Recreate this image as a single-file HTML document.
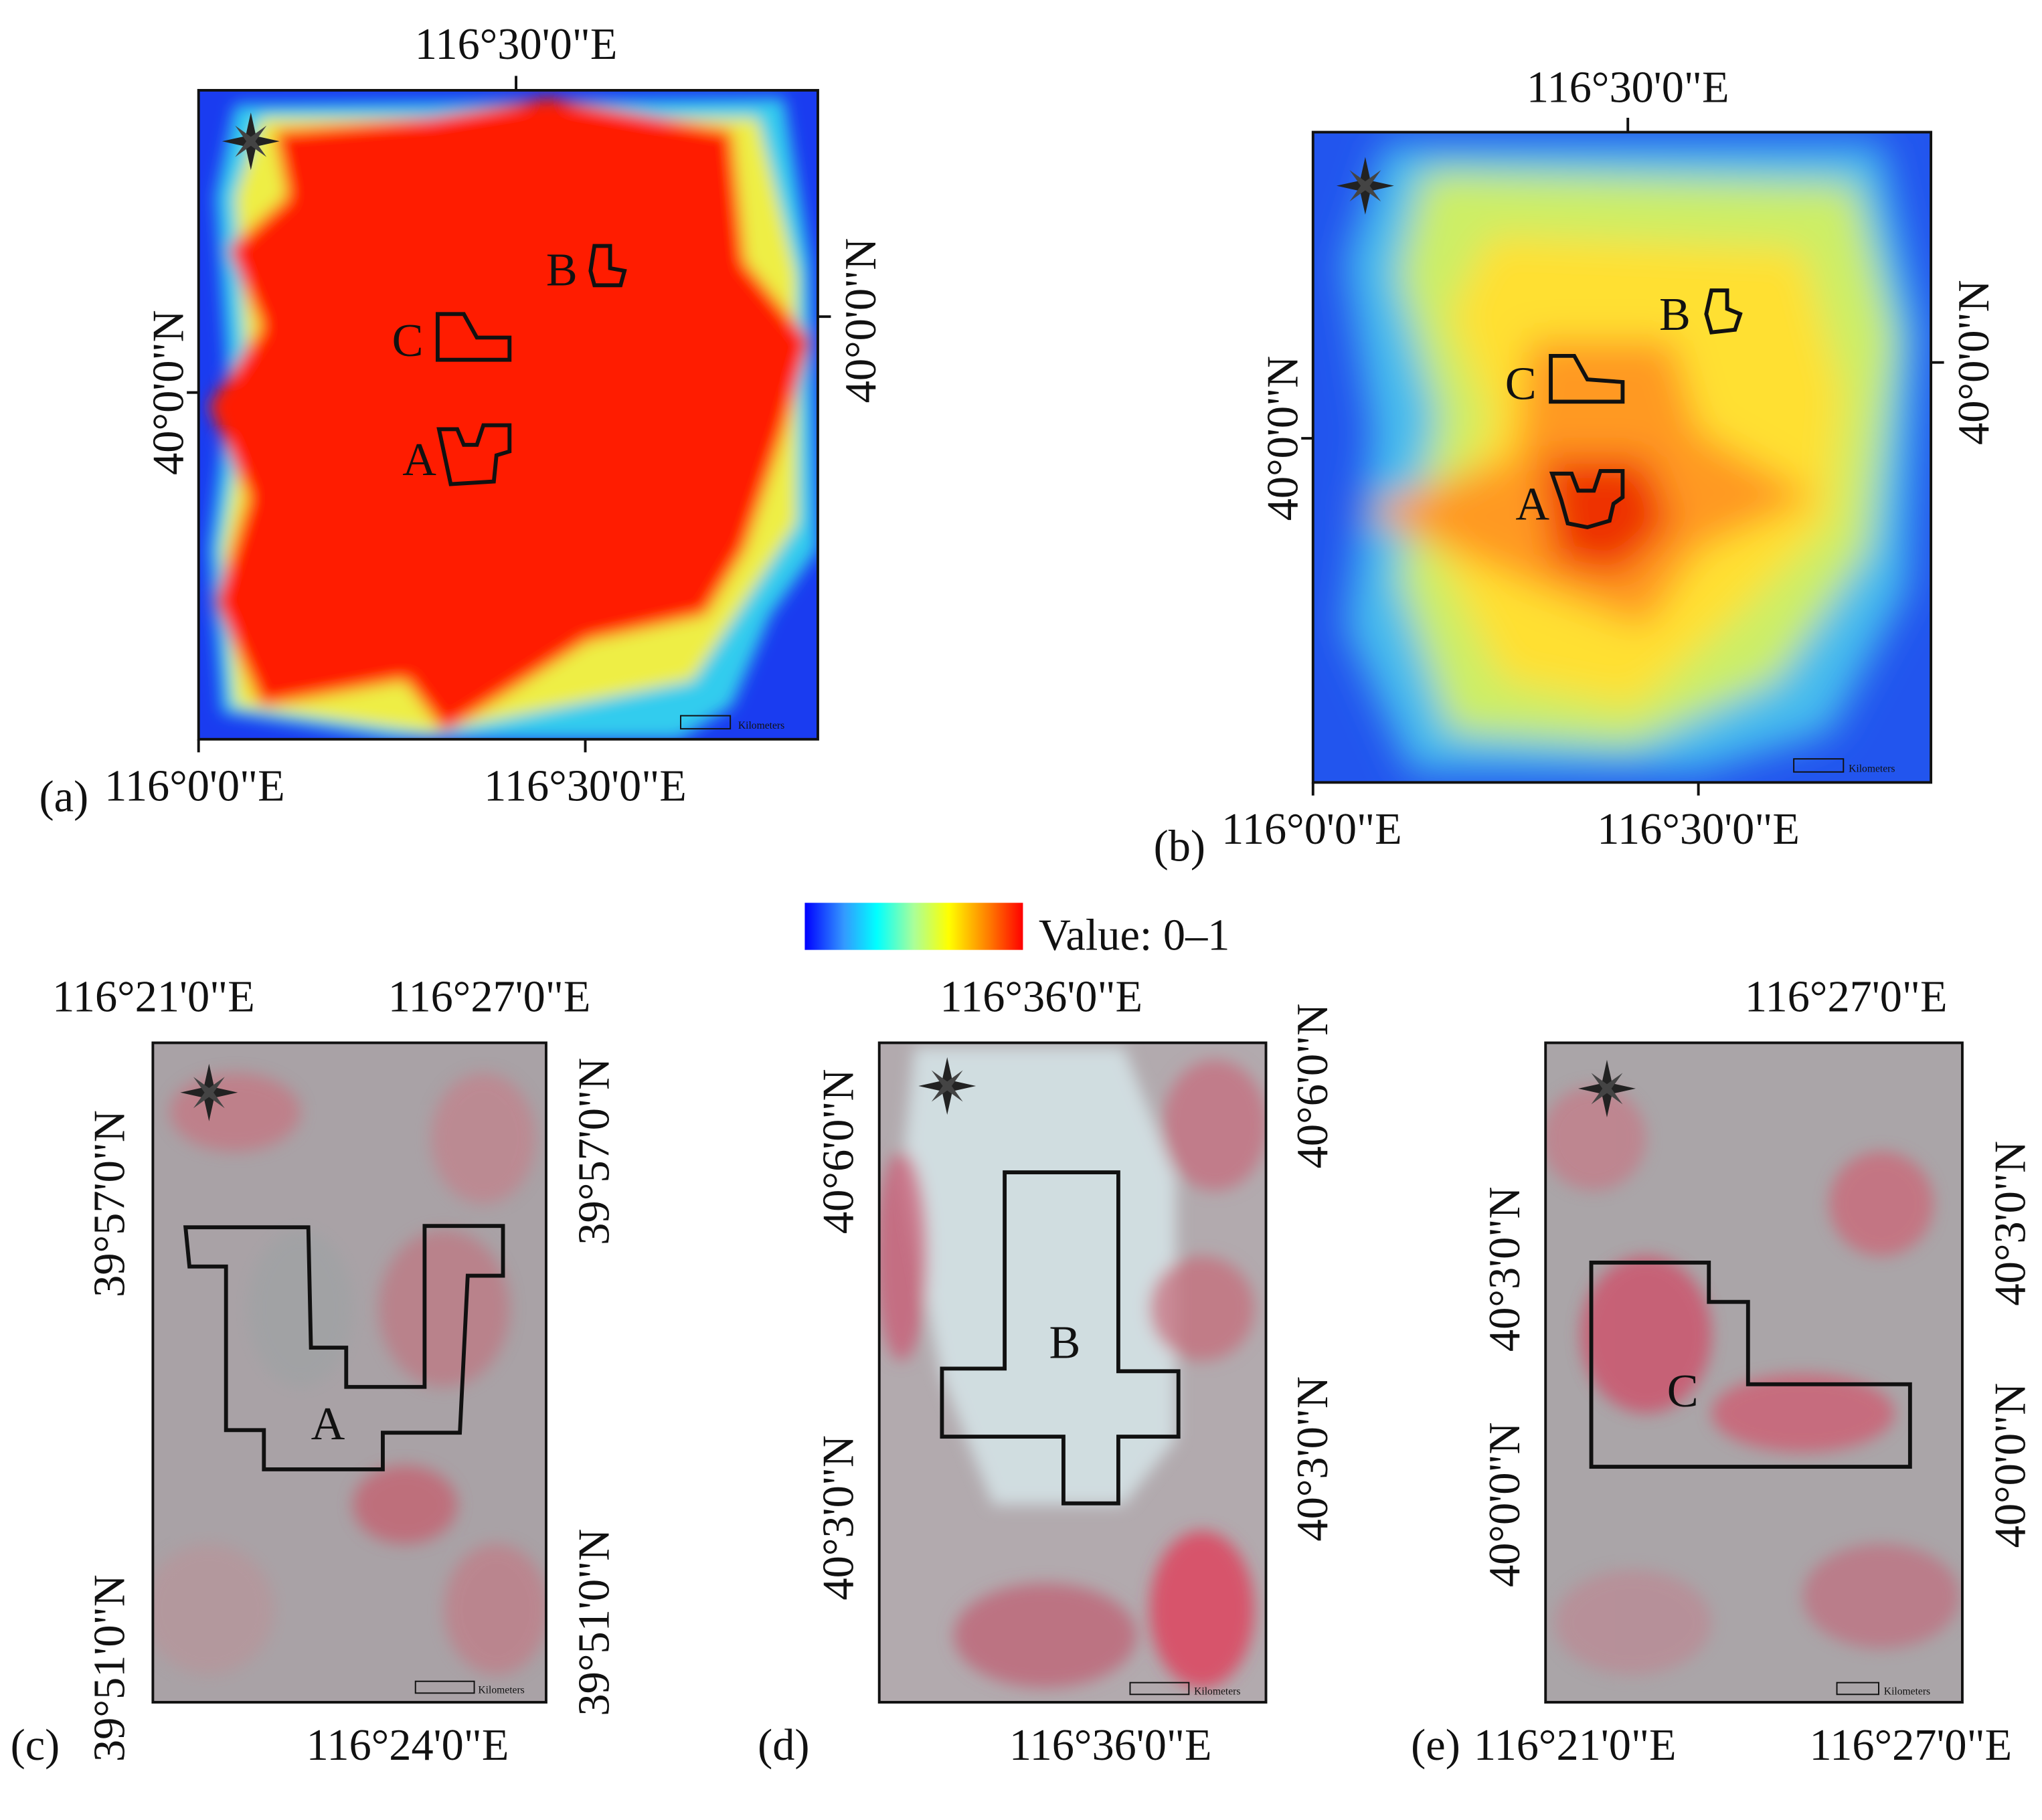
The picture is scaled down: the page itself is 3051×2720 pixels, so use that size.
<!DOCTYPE html>
<html><head><meta charset="utf-8"><style>
html,body{margin:0;padding:0;background:#fff}
svg{display:block}
text{font-family:"Liberation Serif",serif;fill:#111}
</style></head><body>
<svg width="3051" height="2720" viewBox="0 0 1563 1391" preserveAspectRatio="none">
<defs>
<linearGradient id="cb" x1="0" x2="1" y1="0" y2="0">
<stop offset="0" stop-color="#0000ff"/><stop offset="0.18" stop-color="#3399ff"/><stop offset="0.33" stop-color="#00ffff"/><stop offset="0.5" stop-color="#aaff99"/><stop offset="0.66" stop-color="#ffff00"/><stop offset="0.85" stop-color="#ff7700"/><stop offset="1" stop-color="#ff0000"/>
</linearGradient>
<filter id="bl" x="-20%" y="-20%" width="140%" height="140%"><feGaussianBlur stdDeviation="6"/></filter>
<filter id="bl2" x="-20%" y="-20%" width="140%" height="140%"><feGaussianBlur stdDeviation="14"/></filter>
<clipPath id="ca"><rect x="152" y="69" width="474" height="496"/></clipPath>
<clipPath id="cbp"><rect x="1005" y="101" width="473" height="497"/></clipPath>
<clipPath id="cc"><rect x="117" y="797" width="301" height="504"/></clipPath>
<clipPath id="cd"><rect x="673" y="797" width="296" height="504"/></clipPath>
<clipPath id="ce"><rect x="1183" y="797" width="319" height="504"/></clipPath>
<g id="star"><polygon points="0,-22 4,-4 22,0 4,4 0,22 -4,4 -22,0 -4,-4" fill="#222"/><polygon points="-12,-12 2,-2 12,12 -2,2" fill="#444"/><polygon points="12,-12 2,2 -12,12 -2,-2" fill="#444"/></g>
</defs>

<!-- Panel a -->
<g clip-path="url(#ca)">
<rect x="152" y="69" width="474" height="496" fill="#1a3cf0"/>
<g filter="url(#bl)">
<polygon points="180,80 600,75 620,200 626,420 590,470 560,540 520,565 300,565 170,545 160,420 175,300 165,150" fill="#33ccee"/>
<polygon points="200,90 580,90 610,210 610,400 570,460 530,520 480,530 330,560 180,540 170,420 190,300 180,150" fill="#eeee44"/>
<polygon points="210,100 330,90 420,75 560,100 570,200 620,260 600,330 570,420 540,470 450,490 340,560 310,520 200,540 165,460 190,380 160,310 200,250 175,190 220,150" fill="#ff1a00"/>
</g>
</g>
<rect x="152" y="69" width="474" height="496" fill="none" stroke="#111" stroke-width="2"/>
<use href="#star" x="192" y="108"/>
<g fill="none" stroke="#111" stroke-width="3">
<polygon points="335,240 355,240 365,258 390,258 390,275 335,275"/>
<polygon points="336,328 350,328 355,340 365,340 370,325 390,325 390,345 380,348 378,368 345,370"/>
<polygon points="455,188 467,188 467,205 478,207 475,218 455,218 452,207"/>
</g>
<text x="300" y="272" font-size="36">C</text>
<text x="308" y="363" font-size="36">A</text>
<text x="418" y="218" font-size="36">B</text>
<rect x="521" y="547" width="38" height="10" fill="none" stroke="#111" stroke-width="1"/>
<text x="565" y="557" font-size="8" font-family="Liberation Sans">Kilometers</text>
<text x="395" y="45" font-size="34" text-anchor="middle">116°30'0"E</text>
<line x1="395" y1="58" x2="395" y2="69" stroke="#111" stroke-width="2"/>
<text transform="translate(140,300) rotate(-90)" font-size="34" text-anchor="middle">40°0'0"N</text>
<line x1="143" y1="300" x2="152" y2="300" stroke="#111" stroke-width="2"/>
<text transform="translate(670,245) rotate(-90)" font-size="34" text-anchor="middle">40°0'0"N</text>
<line x1="626" y1="242" x2="636" y2="242" stroke="#111" stroke-width="2"/>
<text x="30" y="620" font-size="34">(a)</text>
<text x="80" y="612" font-size="34">116°0'0"E</text>
<text x="448" y="612" font-size="34" text-anchor="middle">116°30'0"E</text>
<line x1="152" y1="565" x2="152" y2="575" stroke="#111" stroke-width="2"/>
<line x1="448" y1="565" x2="448" y2="575" stroke="#111" stroke-width="2"/>

<!-- Panel b -->
<g clip-path="url(#cbp)">
<rect x="1005" y="101" width="473" height="497" fill="#2255ee"/>
<g filter="url(#bl2)">
<polygon points="1060,110 1440,110 1470,250 1460,450 1400,560 1300,590 1080,590 1030,480 1050,330 1030,200" fill="#44bbee"/>
<polygon points="1090,130 1420,140 1450,260 1430,420 1360,520 1250,570 1110,560 1070,440 1100,320 1070,210" fill="#ccee66"/>
<polygon points="1140,180 1380,190 1410,300 1400,400 1330,470 1250,540 1150,520 1100,420 1140,320 1110,240" fill="#ffe030"/>
<polygon points="1170,260 1280,260 1300,330 1390,380 1300,420 1260,480 1180,450 1040,390 1160,350" fill="#ff9922"/>
<polygon points="1180,350 1260,350 1280,400 1240,440 1190,430" fill="#ee3300"/>
</g>
</g>
<rect x="1005" y="101" width="473" height="497" fill="none" stroke="#111" stroke-width="2"/>
<use href="#star" x="1045" y="142"/>
<g fill="none" stroke="#111" stroke-width="3">
<polygon points="1187,272 1205,272 1215,290 1242,292 1242,307 1187,307"/>
<polygon points="1188,362 1203,362 1208,375 1220,375 1225,360 1242,360 1242,380 1235,385 1232,398 1215,403 1200,400 1195,382"/>
<polygon points="1310,222 1322,222 1322,236 1332,240 1328,252 1310,254 1306,240"/>
</g>
<text x="1152" y="305" font-size="36">C</text>
<text x="1160" y="397" font-size="36">A</text>
<text x="1270" y="252" font-size="36">B</text>
<rect x="1373" y="580" width="38" height="10" fill="none" stroke="#111" stroke-width="1"/>
<text x="1415" y="590" font-size="8" font-family="Liberation Sans">Kilometers</text>
<text x="1246" y="78" font-size="34" text-anchor="middle">116°30'0"E</text>
<line x1="1246" y1="90" x2="1246" y2="101" stroke="#111" stroke-width="2"/>
<text transform="translate(993,335) rotate(-90)" font-size="34" text-anchor="middle">40°0'0"N</text>
<line x1="996" y1="335" x2="1005" y2="335" stroke="#111" stroke-width="2"/>
<text transform="translate(1522,277) rotate(-90)" font-size="34" text-anchor="middle">40°0'0"N</text>
<line x1="1478" y1="277" x2="1488" y2="277" stroke="#111" stroke-width="2"/>
<text x="883" y="658" font-size="34">(b)</text>
<text x="935" y="645" font-size="34">116°0'0"E</text>
<text x="1300" y="645" font-size="34" text-anchor="middle">116°30'0"E</text>
<line x1="1005" y1="598" x2="1005" y2="608" stroke="#111" stroke-width="2"/>
<line x1="1300" y1="598" x2="1300" y2="608" stroke="#111" stroke-width="2"/>

<!-- Colorbar -->
<rect x="616" y="690" width="167" height="36" fill="url(#cb)"/>
<text x="795" y="726" font-size="34">Value: 0–1</text>

<!-- Panel c -->
<g clip-path="url(#cc)">
<rect x="117" y="797" width="301" height="504" fill="#a9a2a6"/>
<g filter="url(#bl)" opacity="0.7">
<ellipse cx="180" cy="850" rx="50" ry="30" fill="#c8727f"/>
<ellipse cx="370" cy="870" rx="40" ry="50" fill="#c4808a"/>
<ellipse cx="340" cy="1000" rx="50" ry="60" fill="#c07580"/>
<ellipse cx="310" cy="1150" rx="40" ry="30" fill="#c85a6a"/>
<ellipse cx="160" cy="1230" rx="50" ry="50" fill="#b8949a"/>
<ellipse cx="380" cy="1230" rx="40" ry="50" fill="#c27a85"/>
<ellipse cx="230" cy="1000" rx="40" ry="60" fill="#9ea2a4"/>
</g>
</g>
<rect x="117" y="797" width="301" height="504" fill="none" stroke="#111" stroke-width="2"/>
<use href="#star" x="160" y="835"/>
<polygon points="142,938 236,938 238,1030 265,1030 265,1060 325,1060 325,937 385,937 385,975 358,975 352,1095 293,1095 293,1123 202,1123 202,1093 173,1093 173,968 145,968" fill="none" stroke="#111" stroke-width="3"/>
<text x="238" y="1100" font-size="36">A</text>
<rect x="318" y="1285" width="45" height="9" fill="none" stroke="#111" stroke-width="1"/>
<text x="366" y="1294" font-size="8" font-family="Liberation Sans">Kilometers</text>
<text x="40" y="773" font-size="34">116°21'0"E</text>
<text x="297" y="773" font-size="34">116°27'0"E</text>
<text transform="translate(95,920) rotate(-90)" font-size="34" text-anchor="middle">39°57'0"N</text>
<text transform="translate(95,1275) rotate(-90)" font-size="34" text-anchor="middle">39°51'0"N</text>
<text transform="translate(466,880) rotate(-90)" font-size="34" text-anchor="middle">39°57'0"N</text>
<text transform="translate(466,1240) rotate(-90)" font-size="34" text-anchor="middle">39°51'0"N</text>
<text x="8" y="1345" font-size="34">(c)</text>
<text x="312" y="1345" font-size="34" text-anchor="middle">116°24'0"E</text>

<!-- Panel d -->
<g clip-path="url(#cd)">
<rect x="673" y="797" width="296" height="504" fill="#b2aaae"/>
<g filter="url(#bl)">
<polygon points="700,800 860,800 900,900 900,1100 860,1150 760,1150 720,1050 690,900" fill="#d4e2e6" opacity="0.9"/>
<ellipse cx="930" cy="860" rx="40" ry="50" fill="#c86a7a" opacity="0.7"/>
<ellipse cx="690" cy="960" rx="20" ry="80" fill="#cc5570" opacity="0.7"/>
<ellipse cx="920" cy="1000" rx="40" ry="40" fill="#c86878" opacity="0.7"/>
<ellipse cx="920" cy="1230" rx="40" ry="60" fill="#e0405a" opacity="0.8"/>
<ellipse cx="800" cy="1250" rx="70" ry="40" fill="#c05d70" opacity="0.7"/>
</g>
</g>
<rect x="673" y="797" width="296" height="504" fill="none" stroke="#111" stroke-width="2"/>
<use href="#star" x="725" y="830"/>
<polygon points="769,896 856,896 856,1048 902,1048 902,1098 856,1098 856,1149 814,1149 814,1098 721,1098 721,1046 769,1046" fill="none" stroke="#111" stroke-width="3"/>
<text x="803" y="1038" font-size="36">B</text>
<rect x="865" y="1286" width="45" height="9" fill="none" stroke="#111" stroke-width="1"/>
<text x="914" y="1295" font-size="8" font-family="Liberation Sans">Kilometers</text>
<text x="797" y="773" font-size="34" text-anchor="middle">116°36'0"E</text>
<text transform="translate(653,880) rotate(-90)" font-size="34" text-anchor="middle">40°6'0"N</text>
<text transform="translate(653,1160) rotate(-90)" font-size="34" text-anchor="middle">40°3'0"N</text>
<text transform="translate(1016,830) rotate(-90)" font-size="34" text-anchor="middle">40°6'0"N</text>
<text transform="translate(1016,1115) rotate(-90)" font-size="34" text-anchor="middle">40°3'0"N</text>
<text x="580" y="1345" font-size="34">(d)</text>
<text x="850" y="1345" font-size="34" text-anchor="middle">116°36'0"E</text>

<!-- Panel e -->
<g clip-path="url(#ce)">
<rect x="1183" y="797" width="319" height="504" fill="#aaa5a8"/>
<g filter="url(#bl)" opacity="0.75">
<ellipse cx="1260" cy="1020" rx="50" ry="60" fill="#d04c66"/>
<ellipse cx="1380" cy="1080" rx="70" ry="30" fill="#d05a70"/>
<ellipse cx="1440" cy="920" rx="40" ry="40" fill="#cc6677"/>
<ellipse cx="1220" cy="870" rx="40" ry="40" fill="#c47b88"/>
<ellipse cx="1440" cy="1220" rx="60" ry="40" fill="#c07080"/>
<ellipse cx="1250" cy="1240" rx="60" ry="40" fill="#bb8a94"/>
</g>
</g>
<rect x="1183" y="797" width="319" height="504" fill="none" stroke="#111" stroke-width="2"/>
<use href="#star" x="1230" y="832"/>
<polygon points="1218,965 1308,965 1308,995 1338,995 1338,1058 1462,1058 1462,1121 1218,1121" fill="none" stroke="#111" stroke-width="3"/>
<text x="1276" y="1075" font-size="36">C</text>
<rect x="1406" y="1286" width="32" height="9" fill="none" stroke="#111" stroke-width="1"/>
<text x="1442" y="1295" font-size="8" font-family="Liberation Sans">Kilometers</text>
<text x="1413" y="773" font-size="34" text-anchor="middle">116°27'0"E</text>
<text transform="translate(1163,970) rotate(-90)" font-size="34" text-anchor="middle">40°3'0"N</text>
<text transform="translate(1163,1150) rotate(-90)" font-size="34" text-anchor="middle">40°0'0"N</text>
<text transform="translate(1550,935) rotate(-90)" font-size="34" text-anchor="middle">40°3'0"N</text>
<text transform="translate(1550,1120) rotate(-90)" font-size="34" text-anchor="middle">40°0'0"N</text>
<text x="1080" y="1345" font-size="34">(e)</text>
<text x="1128" y="1345" font-size="34">116°21'0"E</text>
<text x="1385" y="1345" font-size="34">116°27'0"E</text>
</svg>
</body></html>
